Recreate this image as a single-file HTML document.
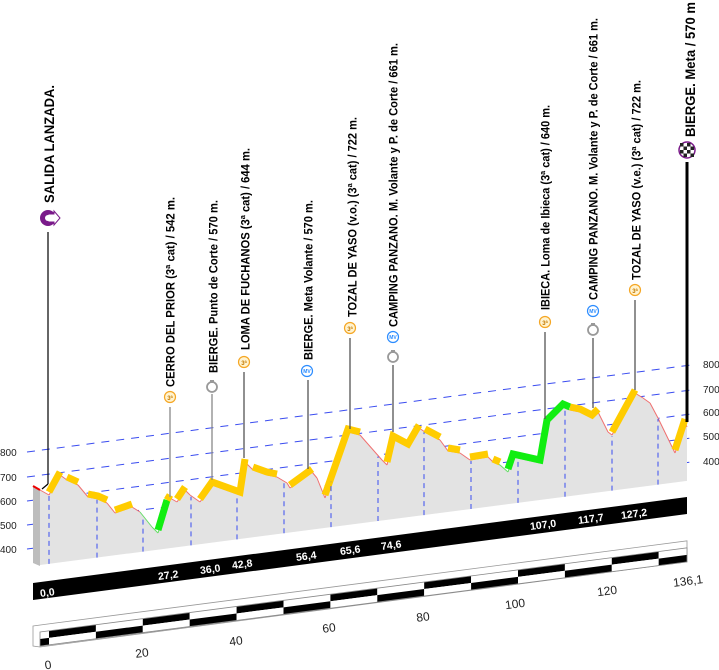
<!DOCTYPE html>
<html><head><meta charset="utf-8"><style>
html,body{margin:0;padding:0;background:#fff;}
svg{display:block;font-family:"Liberation Sans",sans-serif;}
</style></head><body>
<svg id="s" width="719" height="670" viewBox="0 0 719 670" xmlns="http://www.w3.org/2000/svg">
<g id="grid"></g>
<g id="prof"></g>
<g id="vl"></g>
<g id="bars"></g>
<g id="labels"></g>
</svg>
<script>
const NS="http://www.w3.org/2000/svg";
function el(parent,tag,attrs,txt){const e=document.createElementNS(NS,tag);for(const k in attrs)e.setAttribute(k,attrs[k]);if(txt!==undefined)e.textContent=txt;document.getElementById(parent).appendChild(e);return e;}
const S=0.131;
const gl={800:452,700:477,600:501,500:525,400:549};
const gr={800:365,700:390,600:413,500:437,400:462};
for(const v of [800,700,600,500,400]){
  el('grid','line',{x1:27,y1:gl[v],x2:690,y2:gl[v]-663*S,stroke:'#3a4cf0','stroke-width':1,'stroke-dasharray':'8,7'});
  el('grid','text',{x:0,y:gl[v]+4,'font-size':10,fill:'#222'},String(v));
  el('grid','text',{x:703,y:gr[v]+3,'font-size':10,fill:'#222'},String(v));
}
const P=[[40,490],[49,495],[60,475],[67,480],[78,485],[88,497],[98,499],[107,503],[115,513],[132,507],[140,512],[152,527],[158,533],[167,503],[170,498],[177,502],[185,490],[190,495],[200,502],[212,485],[240,495],[245,462],[253,470],[267,475],[277,477],[287,483],[290,488],[312,472],[317,478],[325,498],[348,432],[360,435],[382,460],[387,465],[393,439],[408,447],[419,428],[425,432],[440,440],[448,451],[460,453],[470,460],[488,457],[493,462],[500,465],[508,472],[513,457],[540,463],[547,423],[563,407],[570,410],[580,412],[592,418],[598,412],[608,432],[612,435],[635,393],[643,398],[650,403],[658,418],[675,453],[685,422],[687,427]];
function by(x){return 565-(x-40)*0.13;}
let pts=P.map(p=>p.join(',')).join(' ');
el('prof','polygon',{points:'33,486 40,490 40,566 33,563',fill:'#bdbdbd'});
el('prof','polygon',{points:pts+' 687,'+by(687)+' 40,'+by(40),fill:'#e3e3e3'});
el('prof','line',{x1:33,y1:486,x2:40,y2:490,stroke:'#e00','stroke-width':2});
// thin lines on all
for(let i=0;i<P.length-1;i++){
  const [x1,y1]=P[i],[x2,y2]=P[i+1];
  const green=(x1>=140&&x2<=167)||(x1>=493&&x2<=570);
  el('prof','line',{x1:x1,y1:y1,x2:x2,y2:y2,stroke:green?'#66dd66':'#f07070','stroke-width':1});
}
// bands: runs of non-steep-descent segments
function isBand(i){const dy=P[i+1][1]-P[i][1];const dx=P[i+1][0]-P[i][0];return dy/dx<=0.55;}
function colOf(i){const x1=P[i][0],x2=P[i+1][0];return ((x1>=152&&x2<=167)||(x1>=500&&x2<=570))?'#11ee11':'#ffcc00';}
let i=0;
while(i<P.length-1){
  if(!isBand(i)){i++;continue;}
  const c=colOf(i);let run=[P[i]];
  while(i<P.length-1&&isBand(i)&&colOf(i)===c){run.push(P[i+1]);i++;}
  el('prof','polyline',{points:run.map(p=>p[0]+','+(p[1]-3)).join(' '),fill:'none',stroke:c,'stroke-width':7,'stroke-linejoin':'miter','stroke-linecap':'butt'});
}
function py(x){for(let i=0;i<P.length-1;i++){if(x>=P[i][0]&&x<=P[i+1][0]){const t=(x-P[i][0])/(P[i+1][0]-P[i][0]);return P[i][1]+t*(P[i+1][1]-P[i][1]);}}return 480;}
for(const x of [49,97,143,191,237,284,331,378,424,471,518,565,612,658]){
  el('vl','line',{x1:x,y1:by(x),x2:x,y2:py(x)+1,stroke:'#3a4cf0','stroke-width':1,'stroke-dasharray':'5,4'});
}
el('bars','polygon',{points:'33,583 687,497 687,514 33,600',fill:'#000'});
const kl=[['0,0',40,593],['27,2',158,576],['36,0',200,570],['42,8',232,565],['56,4',296,557],['65,6',340,551],['74,6',381,546],['107,0',530,526],['117,7',578,520],['127,2',621,515]];
for(const [t,x,y] of kl){el('bars','text',{x:x,y:y+4,'font-size':10.5,'font-weight':'bold',fill:'#fff',transform:`rotate(-7.4 ${x} ${y})`},t);}
function ft(x){return 632-(x-40)*0.13;}
el('bars','polygon',{points:`33,626 ${44},${ft(44)-7} 687,${ft(687)-7} 687,${ft(687)+14} 40,${ft(40)+15} 33,646`,fill:'#fff',stroke:'#999','stroke-width':0.8});
let xs=[40,49];for(let k=1;k<=13;k++)xs.push(49+k*46.9);xs.push(687);
for(let i=0;i<xs.length-1;i++){
  const a=xs[i],b=xs[i+1];
  const topBlack=(i%2===1);
  const r1=topBlack?'#000':'#fff', r2=topBlack?'#fff':'#000';
  el('bars','polygon',{points:`${a},${ft(a)} ${b},${ft(b)} ${b},${ft(b)+7} ${a},${ft(a)+7}`,fill:r1});
  el('bars','polygon',{points:`${a},${ft(a)+7} ${b},${ft(b)+7} ${b},${ft(b)+14} ${a},${ft(a)+14}`,fill:r2});
}
el('bars','polygon',{points:`40,${ft(40)} 687,${ft(687)} 687,${ft(687)+14} 40,${ft(40)+14}`,fill:'none',stroke:'#888','stroke-width':0.8});
const sl=[['0',48,665],['20',142,653],['40',236,641],['60',329,628],['80',423,617],['100',515,604],['120',607,591],['136,1',688,581]];
for(const [t,x,y] of sl){el('bars','text',{x:x,y:y+4,'font-size':12,fill:'#222','text-anchor':'middle',transform:`rotate(-7.4 ${x} ${y})`},t);}
function vtext(t,x,yb,yt,fs){el('labels','text',{x:yb*-1,y:x+fs*0.36,transform:'rotate(-90)','font-size':fs,'font-weight':'bold',fill:'#000',textLength:yb-yt,lengthAdjust:'spacingAndGlyphs'},t);}
function kom(x,y){el('labels','circle',{cx:x,cy:y,r:5.5,fill:'#fff3d0',stroke:'#f5a623','stroke-width':1.2});el('labels','text',{x:x,y:y+3,'font-size':6,'text-anchor':'middle',fill:'#c47a00','font-weight':'bold'},'3ª');}
function mv(x,y){el('labels','circle',{cx:x,cy:y,r:5.5,fill:'#fff',stroke:'#2b8cff','stroke-width':1.2});el('labels','text',{x:x,y:y+2,'font-size':5,'text-anchor':'middle',fill:'#2b8cff','font-weight':'bold'},'MV');}
function ring(x,y){el('labels','circle',{cx:x,cy:y+1,r:5,fill:'none',stroke:'#999','stroke-width':1.8});el('labels','rect',{x:x-2,y:y-6,width:4,height:3,fill:'#999'});}
function vline(x,y1,y2,c,w){el('labels','line',{x1:x,y1:y1,x2:x,y2:y2,stroke:c,'stroke-width':w});}
vtext('SALIDA LANZADA.',49,203,85,13.5);
el('labels','circle',{cx:48,cy:218,r:8,fill:'#7a1a8a'});
el('labels','path',{d:'M48,214 h6 v-3 l6,7 l-6,7 v-3 h-6 z',fill:'#fff',stroke:'#7a1a8a','stroke-width':1});
el('labels','circle',{cx:48,cy:218,r:3,fill:'#fff'});
vline(48,232,484,'#000',1.2);el('labels','line',{x1:48,y1:484,x2:42,y2:489,stroke:'#000','stroke-width':1.2});
vtext('CERRO DEL PRIOR (3ª cat) / 542 m.',170,387,197,12);kom(170,397);vline(170,407,497,'#999',1.5);
vtext('BIERGE. Punto de Corte / 570 m.',213,373,200,12);ring(212,386);vline(212,394,480,'#888',1.3);
vtext('LOMA DE FUCHANOS (3ª cat) / 644 m.',245,350,148,12);kom(244,362);vline(244,372,458,'#555',1.3);
vtext('BIERGE. Meta Volante / 570 m.',308,360,200,12);mv(307,371);vline(308,380,469,'#555',1.3);
vtext('TOZAL DE YASO (v.o.) (3ª cat) / 722 m.',352,317,117,12);kom(350,328);vline(350,338,429,'#555',1.3);
vtext('CAMPING PANZANO. M. Volante y P. de Corte / 661 m.',393,327,43,12);mv(393,337);ring(393,356);vline(393,365,432,'#555',1.3);
vtext('IBIECA. Loma de Ibieca (3ª cat) / 640 m.',545,310,105,12);kom(545,322);vline(545,332,419,'#555',1.3);
vtext('CAMPING PANZANO. M. Volante y P. de Corte / 661 m.',593,300,18,12);mv(593,311);ring(593,329);vline(593,338,408,'#555',1.3);
vtext('TOZAL DE YASO (v.e.) (3ª cat) / 722 m.',636,280,80,12);kom(635,290);vline(635,300,390,'#555',1.3);
vtext('BIERGE. Meta / 570 m',690,137,2,14);
el('labels','circle',{cx:687,cy:150,r:8,fill:'#fff',stroke:'#7a1a8a','stroke-width':1.5});
for(let i=-2;i<2;i++)for(let j=-2;j<2;j++){if((i+j)%2===0)el('labels','rect',{x:687+i*3.5,y:150+j*3.5,width:3.5,height:3.5,fill:'#222'});}
vline(687,162,422,'#000',3);
</script>
</body></html>
